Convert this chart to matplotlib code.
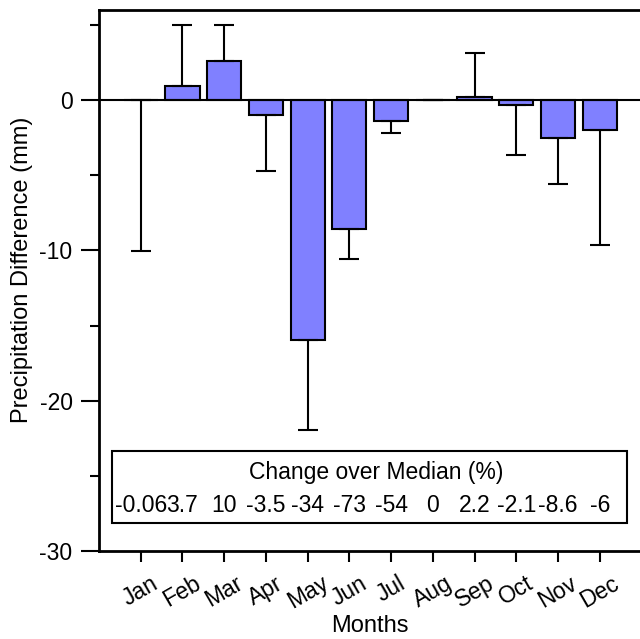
import numpy as np
import matplotlib.pyplot as plt
from matplotlib.patches import Rectangle

plt.rcParams['font.family'] = ['Liberation Sans', 'DejaVu Sans']
plt.rcParams['axes.unicode_minus'] = False

months = ['Jan', 'Feb', 'Mar', 'Apr', 'May', 'Jun',
          'Jul', 'Aug', 'Sep', 'Oct', 'Nov', 'Dec']
# precipitation difference (mm) and one-sided error (mm)
diff = [-0.01, 0.93, 2.6, -1.0, -15.97, -8.56, -1.4, 0.0, 0.22, -0.35, -2.5, -2.0]
err = [10.0, 4.1, 2.4, 3.7, 5.95, 2.0, 0.78, 0.0, 2.95, 3.3, 3.07, 7.67]
# change over median (%)
pct_labels = ['-0.06', '3.7', '10', '-3.5', '-34', '-73',
              '-54', '0', '2.2', '-2.1', '-8.6', '-6']

x = np.arange(1, len(months) + 1)
diff = np.array(diff)
err = np.array(err)
lower = np.where(diff < 0, err, 0)
upper = np.where(diff >= 0, err, 0)

fs = 16.5

fig = plt.figure(figsize=(6.4, 6.39), dpi=100)
ax = fig.add_axes([0.1547, 0.1377, 0.8476, 0.8467])

ax.bar(x, diff, width=0.82, color='#8080ff', edgecolor='black', linewidth=1.5, zorder=2)
ax.errorbar(x, diff, yerr=[lower, upper], fmt='none', ecolor='black',
            elinewidth=1.5, capsize=7.5, capthick=1.5, zorder=3)
ax.axhline(0, color='black', linewidth=1.5, zorder=4)

ax.set_xlim(0, 13)
ax.set_ylim(-30, 6)
ax.set_xticks(x)
ax.set_xticklabels(months, rotation=30, ha='center')
ax.set_yticks([0, -10, -20, -30])
ax.set_yticks([5, -5, -15, -25], minor=True)

for s in ['left', 'bottom', 'top']:
    ax.spines[s].set_linewidth(2)
ax.spines['right'].set_visible(False)
ax.tick_params(axis='y', which='major', length=13, width=1.5, labelsize=fs, pad=6)
ax.tick_params(axis='y', which='minor', length=6.5, width=1.5)
ax.tick_params(axis='x', length=8, width=1.5, labelsize=fs, pad=7)

ax.set_ylabel('Precipitation Difference (mm)', fontsize=17)
ax.yaxis.set_label_coords(-0.122, 0.519)
ax.set_xlabel('Months', fontsize=17)
ax.xaxis.set_label_coords(0.5, -0.149)
ax.xaxis.label.set_verticalalignment('baseline')

# box with percentage change per month
ax.add_patch(Rectangle((0.32, -28.15), 12.34, 4.8, facecolor='white',
                       edgecolor='black', linewidth=1.5, zorder=5))
ax.text(6.65, -24.8, 'Change over Median (%)', ha='center', va='center',
        fontsize=fs, zorder=6)
for xi, lab in zip(x, pct_labels):
    ax.text(xi, -26.95, lab, ha='center', va='center', fontsize=fs, zorder=6)

fig.savefig('out.png', dpi=100)
